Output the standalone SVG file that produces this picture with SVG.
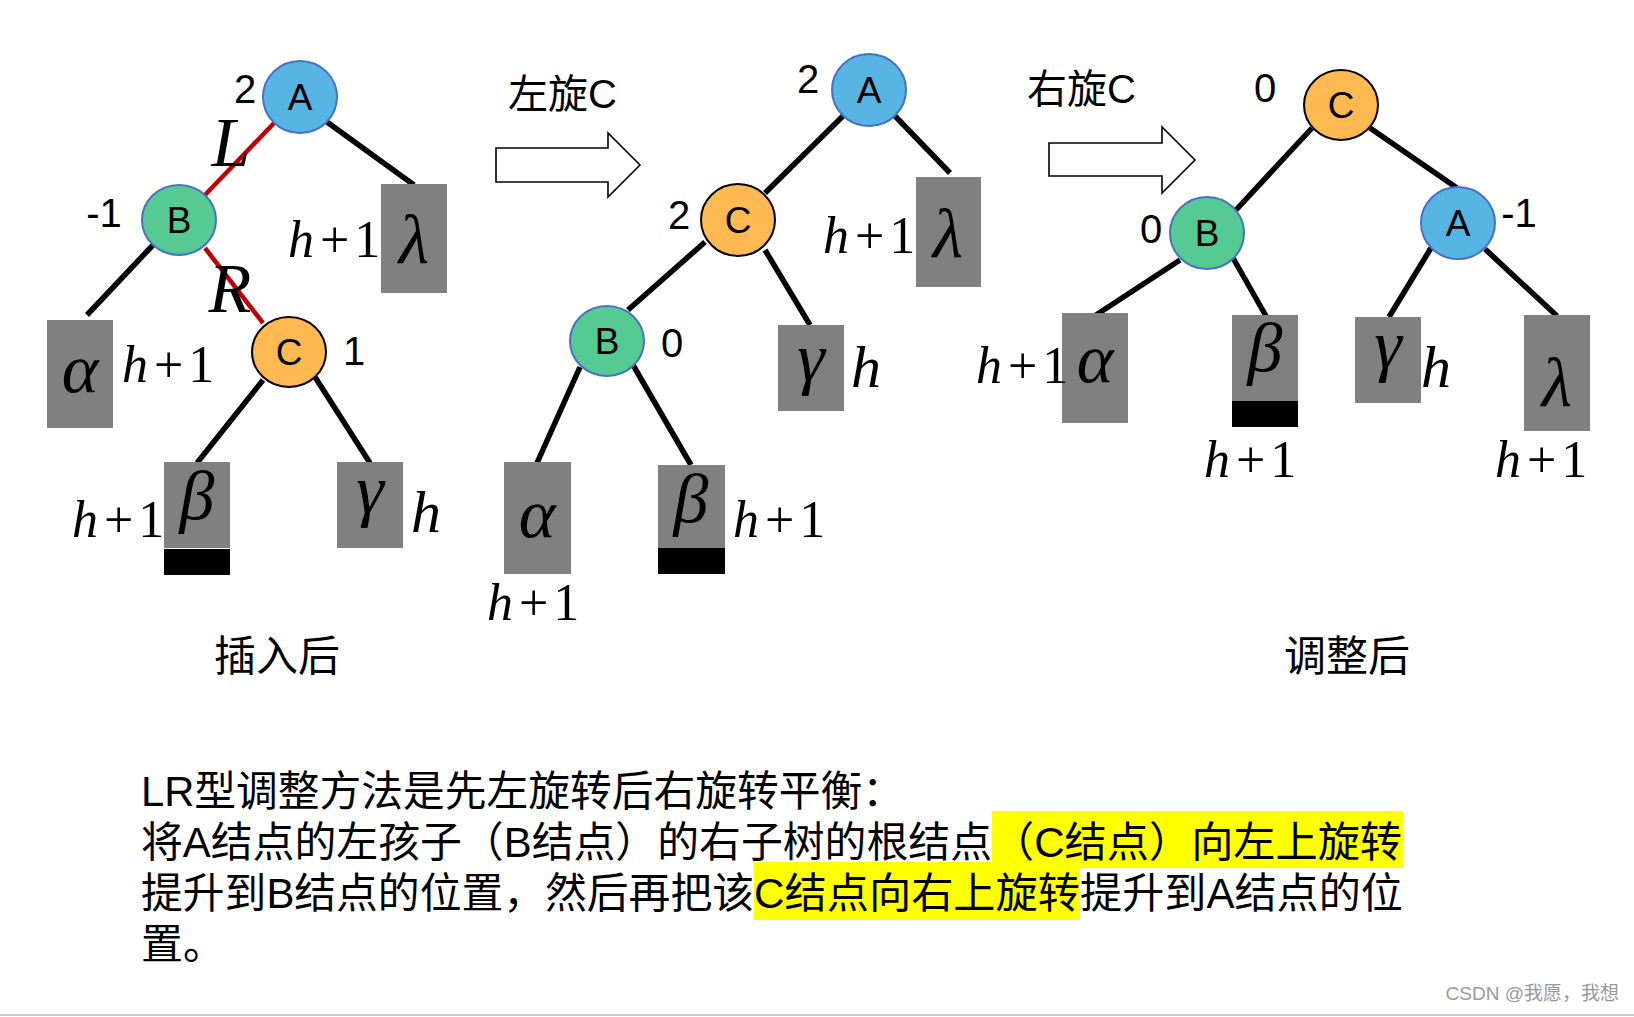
<svg xmlns="http://www.w3.org/2000/svg" width="1634" height="1017" viewBox="0 0 1634 1017">
<style>
.edge{stroke:#000;stroke-width:5.5;fill:none}
.red{stroke:#C00000;stroke-width:4.5;fill:none}
.nA{fill:#57B4E3;stroke:#4472C4;stroke-width:2}
.nB{fill:#55CA93;stroke:#4472C4;stroke-width:2}
.nC{fill:#FFB952;stroke:#000;stroke-width:2}
.lbl{font-family:"Liberation Sans",Arial,sans-serif;font-size:37px;text-anchor:middle;fill:#000}
.bf{font-family:"Liberation Sans",Arial,sans-serif;font-size:40px;text-anchor:middle;fill:#000}
.box{fill:#808080}
.bar{fill:#000}
.gk{font-family:"Liberation Serif","Times New Roman",serif;font-style:italic;font-size:70px;text-anchor:middle;fill:#000}
.m{font-family:"Liberation Serif","Times New Roman",serif;font-size:52px;fill:#000}
.h{font-family:"Liberation Serif","Times New Roman",serif;font-size:60px;font-style:italic;fill:#000}
.it{font-style:italic}
.cjk{font-family:"Liberation Sans","Noto Sans CJK SC",sans-serif;fill:#000}
.t{font-size:42px}
.hl{fill:#FFFF00}
.arr{fill:#fff;stroke:#000;stroke-width:1.6}
</style>
<rect width="1634" height="1017" fill="#fff"/>

<g id="connectors">
  <line class="red" x1="275" y1="122" x2="205" y2="195"/>
  <line class="red" x1="205" y1="248" x2="263" y2="323"/>
  <line class="edge" x1="327" y1="122" x2="414" y2="185"/>
  <line class="edge" x1="153" y1="245" x2="87" y2="315"/>
  <line class="edge" x1="263" y1="380" x2="197" y2="463"/>
  <line class="edge" x1="315" y1="377" x2="370" y2="463"/>

  <line class="edge" x1="843" y1="116" x2="765" y2="193"/>
  <line class="edge" x1="895" y1="116" x2="950" y2="173"/>
  <line class="edge" x1="705" y1="242" x2="628" y2="310"/>
  <line class="edge" x1="765" y1="250" x2="810" y2="325"/>
  <line class="edge" x1="580" y1="367" x2="537" y2="463"/>
  <line class="edge" x1="633" y1="365" x2="691" y2="465"/>

  <line class="edge" x1="1312" y1="128" x2="1236" y2="210"/>
  <line class="edge" x1="1370" y1="128" x2="1457" y2="188"/>
  <line class="edge" x1="1180" y1="260" x2="1096" y2="315"/>
  <line class="edge" x1="1233" y1="258" x2="1266" y2="316"/>
  <line class="edge" x1="1431" y1="248" x2="1389" y2="317"/>
  <line class="edge" x1="1485" y1="249" x2="1557" y2="316"/>
</g>

<!-- Tree 1 -->
<g id="t1-A"><ellipse class="nA" cx="300" cy="97" rx="37" ry="36"/><text class="lbl" x="300" y="110">A</text><text class="bf" x="245" y="103">2</text></g>
<g id="t1-B"><ellipse class="nB" cx="179" cy="220" rx="37" ry="35"/><text class="lbl" x="179" y="233">B</text><text class="bf" x="104" y="227">-1</text></g>
<g id="t1-C"><ellipse class="nC" cx="289" cy="352" rx="37" ry="35"/><text class="lbl" x="289" y="365">C</text><text class="bf" x="354" y="365">1</text></g>
<g id="t1-LR"><text class="gk" x="231" y="166">L</text><text class="gk" x="230" y="312">R</text></g>
<g id="t1-lambda"><rect class="box" x="381" y="184" width="66" height="109"/><text class="gk" x="414" y="263">λ</text>
  <text class="m" x="288" y="257"><tspan class="it">h</tspan><tspan dx="6">+</tspan><tspan dx="5">1</tspan></text></g>
<g id="t1-alpha"><rect class="box" x="47" y="320" width="66" height="108"/><text class="gk" x="80" y="392">α</text>
  <text class="m" x="122" y="382"><tspan class="it">h</tspan><tspan dx="6">+</tspan><tspan dx="5">1</tspan></text></g>
<g id="t1-beta"><rect class="box" x="164" y="462" width="66" height="86"/><rect class="bar" x="164" y="549" width="66" height="26"/><text class="gk" x="197" y="519">β</text>
  <text class="m" x="72" y="537"><tspan class="it">h</tspan><tspan dx="6">+</tspan><tspan dx="5">1</tspan></text></g>
<g id="t1-gamma"><rect class="box" x="337" y="462" width="66" height="86"/><text class="gk" x="370" y="513">γ</text>
  <text class="h" x="411" y="532">h</text></g>
<text class="cjk" x="214" y="671" font-size="42">插入后</text>

<!-- Arrow 1 -->
<g id="arrow1"><polygon class="arr" points="496,148 608,148 608,133 640,165 608,197 608,182 496,182"/>
<text class="cjk" x="508" y="108" font-size="40">左旋C</text></g>

<!-- Tree 2 -->
<g id="t2-A"><ellipse class="nA" cx="869" cy="90" rx="37" ry="36"/><text class="lbl" x="869" y="103">A</text><text class="bf" x="808" y="93">2</text></g>
<g id="t2-C"><ellipse class="nC" cx="738" cy="220" rx="37" ry="36"/><text class="lbl" x="738" y="233">C</text><text class="bf" x="679" y="229">2</text></g>
<g id="t2-B"><ellipse class="nB" cx="607" cy="341" rx="37" ry="35"/><text class="lbl" x="607" y="354">B</text><text class="bf" x="672" y="357">0</text></g>
<g id="t2-lambda"><rect class="box" x="916" y="177" width="65" height="110"/><text class="gk" x="948" y="257">λ</text>
  <text class="m" x="823" y="253"><tspan class="it">h</tspan><tspan dx="6">+</tspan><tspan dx="5">1</tspan></text></g>
<g id="t2-gamma"><rect class="box" x="778" y="325" width="66" height="86"/><text class="gk" x="811" y="381">γ</text>
  <text class="h" x="851" y="387">h</text></g>
<g id="t2-alpha"><rect class="box" x="504" y="462" width="67" height="112"/><text class="gk" x="537" y="537">α</text>
  <text class="m" x="487" y="620"><tspan class="it">h</tspan><tspan dx="6">+</tspan><tspan dx="5">1</tspan></text></g>
<g id="t2-beta"><rect class="box" x="658" y="465" width="67" height="83"/><rect class="bar" x="658" y="548" width="67" height="26"/><text class="gk" x="691" y="522">β</text>
  <text class="m" x="733" y="537"><tspan class="it">h</tspan><tspan dx="6">+</tspan><tspan dx="5">1</tspan></text></g>

<!-- Arrow 2 -->
<g id="arrow2"><polygon class="arr" points="1049,143 1162,143 1162,127 1195,160 1162,193 1162,176 1049,176"/>
<text class="cjk" x="1027" y="103" font-size="40">右旋C</text></g>

<!-- Tree 3 -->
<g id="t3-C"><ellipse class="nC" cx="1341" cy="105" rx="37" ry="35"/><text class="lbl" x="1341" y="118">C</text><text class="bf" x="1265" y="102">0</text></g>
<g id="t3-B"><ellipse class="nB" cx="1207" cy="233" rx="37" ry="36"/><text class="lbl" x="1207" y="246">B</text><text class="bf" x="1151" y="243">0</text></g>
<g id="t3-A"><ellipse class="nA" cx="1458" cy="223" rx="37" ry="36"/><text class="lbl" x="1458" y="236">A</text><text class="bf" x="1519" y="227">-1</text></g>
<g id="t3-alpha"><rect class="box" x="1062" y="313" width="66" height="110"/><text class="gk" x="1095" y="382">α</text>
  <text class="m" x="976" y="383"><tspan class="it">h</tspan><tspan dx="6">+</tspan><tspan dx="5">1</tspan></text></g>
<g id="t3-beta"><rect class="box" x="1232" y="315" width="66" height="86"/><rect class="bar" x="1232" y="401" width="66" height="26"/><text class="gk" x="1265" y="371">β</text>
  <text class="m" x="1204" y="477"><tspan class="it">h</tspan><tspan dx="6">+</tspan><tspan dx="5">1</tspan></text></g>
<g id="t3-gamma"><rect class="box" x="1355" y="317" width="66" height="86"/><text class="gk" x="1388" y="368">γ</text>
  <text class="h" x="1421" y="387">h</text></g>
<g id="t3-lambda"><rect class="box" x="1524" y="315" width="66" height="116"/><text class="gk" x="1557" y="406">λ</text>
  <text class="m" x="1495" y="477"><tspan class="it">h</tspan><tspan dx="6">+</tspan><tspan dx="5">1</tspan></text></g>
<text class="cjk" x="1284" y="671" font-size="42">调整后</text>

<!-- Description -->
<g id="description">
  <rect class="hl" x="992" y="811" width="411" height="57"/>
  <rect class="hl" x="754" y="862" width="326" height="58"/>
  <text class="cjk t" x="141" y="806" textLength="763" lengthAdjust="spacingAndGlyphs">LR型调整方法是先左旋转后右旋转平衡：</text>
  <text class="cjk t" x="141" y="857" textLength="851" lengthAdjust="spacingAndGlyphs">将A结点的左孩子（B结点）的右子树的根结点</text>
  <text class="cjk t" x="992" y="857" textLength="410" lengthAdjust="spacingAndGlyphs">（C结点）向左上旋转</text>
  <text class="cjk t" x="141" y="908" textLength="613" lengthAdjust="spacingAndGlyphs">提升到B结点的位置，然后再把该</text>
  <text class="cjk t" x="754" y="908" textLength="326" lengthAdjust="spacingAndGlyphs">C结点向右上旋转</text>
  <text class="cjk t" x="1080" y="908" textLength="323" lengthAdjust="spacingAndGlyphs">提升到A结点的位</text>
  <text class="cjk t" x="141" y="959">置。</text>
</g>

<text x="1619" y="1000" font-family="Liberation Sans,Noto Sans CJK SC,sans-serif" font-size="19" fill="#999" text-anchor="end">CSDN @我愿，我想</text>
<rect x="0" y="1014" width="1634" height="2" fill="#cccccc"/>
</svg>
